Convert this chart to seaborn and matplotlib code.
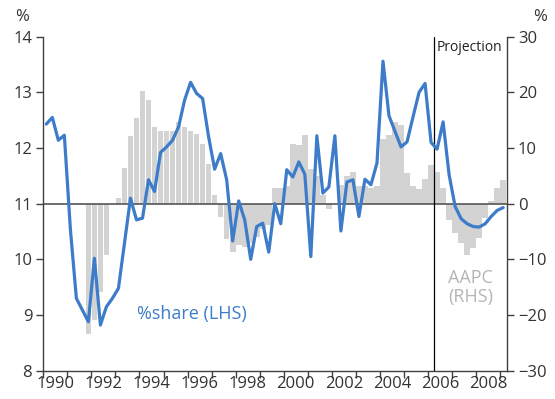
import numpy as np
import pandas as pd
import matplotlib
matplotlib.use("Agg")
import matplotlib.pyplot as plt
import seaborn as sns

sns.set_theme(style="white")
plt.rcParams["font.family"] = ["Open Sans", "DejaVu Sans"]

# Quarterly % share (left axis), 1990Q1 - 2009Q1
share = [12.43, 12.55, 12.14, 12.23, 10.55, 9.30, 9.09, 8.88, 10.02, 8.82,
         9.15, 9.30, 9.48, 10.29, 11.10, 10.71, 10.74, 11.43, 11.22, 11.92,
         12.02, 12.14, 12.38, 12.86, 13.18, 12.98, 12.89, 12.20, 11.62, 11.90,
         11.43, 10.33, 11.05, 10.71, 10.00, 10.59, 10.65, 10.13, 11.00, 10.64,
         11.61, 11.48, 11.75, 11.53, 10.05, 12.22, 11.19, 11.30, 12.22, 10.51,
         11.39, 11.43, 10.77, 11.44, 11.34, 11.73, 13.56, 12.58, 12.30, 12.02,
         12.11, 12.56, 13.00, 13.16, 12.10, 11.98, 12.47, 11.52, 10.95, 10.73,
         10.64, 10.59, 10.58, 10.64, 10.77, 10.88, 10.93]

# AAPC (right axis), 1991Q4 - 2009Q1
aapc = [-23.4, -20.9, -15.8, -9.2, 0.0, 1.0, 6.5, 12.2, 15.4, 20.2,
        18.7, 13.8, 13.1, 13.1, 13.1, 14.7, 13.8, 13.1, 12.6, 10.8,
        7.1, 1.6, -2.3, -6.4, -8.6, -7.4, -7.7, -7.0, -6.0, -4.5,
        -3.8, 2.9, 2.9, 3.1, 10.7, 10.5, 12.3, 6.2, 5.0, 1.6,
        -0.9, 0.0, 3.4, 5.0, 5.7, 3.1, 3.1, 2.8, 3.1, 11.7,
        12.4, 14.6, 14.2, 5.6, 3.2, 2.7, 4.4, 6.9, 5.7, 2.8,
        -2.9, -5.2, -7.0, -9.2, -7.9, -6.2, -2.5, 0.4, 2.8, 4.3]

year_labels = ["1990", "1992", "1994", "1996", "1998", "2000", "2002",
               "2004", "2006", "2008"]
projection_start = 2006.25

# quarter mid-points in decimal years
share_x = 1990.125 + 0.25 * np.arange(len(share))
aapc_x = 1991.875 + 0.25 * np.arange(len(aapc))

df_share = pd.DataFrame({"year": share_x, "share": share})
df_aapc = pd.DataFrame({"year": aapc_x, "aapc": aapc})

blue = "#3d7cc9"
bar_grey = "#d3d3d3"
axis_col = "#404040"
text_col = "#333333"

fig = plt.figure(figsize=(5.55, 3.99), dpi=100)
ax = fig.add_axes([43.3 / 555, 1 - 370.7 / 399,
                   (506.7 - 43.3) / 555, (370.7 - 36.7) / 399])
ax2 = ax.twinx()

sns.barplot(data=df_aapc, x="year", y="aapc", native_scale=True,
            width=0.94, color=bar_grey, saturation=1, errorbar=None,
            linewidth=0, ax=ax2)

ax.set_zorder(ax2.get_zorder() + 1)
ax.patch.set_visible(False)

ax.axhline(11, color="#555555", lw=1.2, zorder=1)
ax.axvline(projection_start, color="black", lw=0.9, zorder=1)
sns.lineplot(data=df_share, x="year", y="share", color=blue, lw=2.3,
             ax=ax, zorder=3)

xmin, xmax = 1990.0, 2009.27
ax.set_xlim(xmin, xmax)
ax2.set_xlim(xmin, xmax)
ax.set_ylim(8, 14)
ax2.set_ylim(-30, 30)

ax.set_xlabel("")
ax.set_ylabel("")
ax2.set_xlabel("")
ax2.set_ylabel("")

ax.set_xticks(np.arange(1990, 2010))
ax.set_xticklabels([])
ax.set_xticks([int(y) + 0.5 for y in year_labels], labels=year_labels,
              minor=True)
ax.set_yticks(np.arange(8, 15))
ax2.set_yticks(np.arange(-30, 31, 10))

ax.tick_params(axis="x", which="major", direction="out", length=5,
               width=1, color=axis_col, bottom=True)
ax.tick_params(axis="x", which="minor", length=0, pad=4,
               labelsize=12, labelcolor=text_col)
ax.tick_params(axis="y", direction="out", length=5, width=1,
               color=axis_col, left=True, labelsize=12, labelcolor=text_col,
               pad=3)
ax2.tick_params(axis="y", direction="out", length=5, width=1,
                color=axis_col, right=True, labelsize=12,
                labelcolor=text_col, pad=3)
ax2.tick_params(axis="x", length=0, labelbottom=False)

for a in (ax, ax2):
    for s in a.spines.values():
        s.set_visible(False)
for s in ("left", "bottom"):
    ax.spines[s].set_visible(True)
    ax.spines[s].set_color(axis_col)
    ax.spines[s].set_linewidth(1)
ax2.spines["right"].set_visible(True)
ax2.spines["right"].set_color(axis_col)
ax2.spines["right"].set_linewidth(1)

ax.text(projection_start + 0.1, 13.8, "Projection", fontsize=10,
        color="#222222", ha="left", va="center")
ax.text(1993.9, 9.02, "%share (LHS)", fontsize=13, color=blue,
        ha="left", va="center")
ax.text(2007.78, 9.49, "AAPC\n(RHS)", fontsize=13, color="#b5b5b5",
        ha="center", va="center", linespacing=1.05)

fig.text(22 / 555, 1 - 17 / 399, "%", fontsize=12, color=text_col,
         ha="center", va="center")
fig.text(540 / 555, 1 - 17 / 399, "%", fontsize=12, color=text_col,
         ha="center", va="center")

fig.savefig("out.png", dpi=100)
